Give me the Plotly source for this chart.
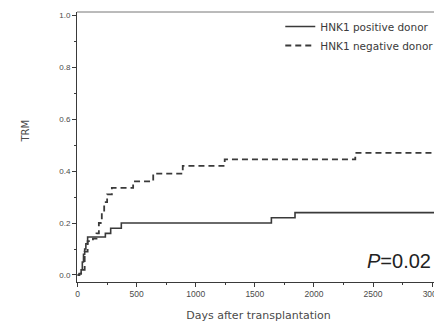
import plotly.graph_objects as go

# Data (days after transplantation, cumulative TRM)
pos_days = [0, 15, 30, 40, 50, 60, 70, 85, 235, 280, 370, 1640, 1840, 3067]
pos_trm  = [0.0, 0.005, 0.02, 0.05, 0.08, 0.10, 0.12, 0.146, 0.16, 0.18, 0.20, 0.22, 0.24, 0.24]

neg_days = [0, 15, 30, 60, 85, 130, 160, 180, 205, 225, 250, 290, 470, 640, 890, 1245, 2350, 3067]
neg_trm  = [0.0, 0.005, 0.02, 0.09, 0.13, 0.14, 0.16, 0.20, 0.24, 0.28, 0.31, 0.335, 0.36, 0.39, 0.42, 0.445, 0.47, 0.47]

series_names = ["HNK1 positive donor", "HNK1 negative donor"]
x_ticks = [0, 500, 1000, 1500, 2000, 2500, 3000]
y_ticks = [0.0, 0.2, 0.4, 0.6, 0.8, 1.0]

line_col = "#3a3a3a"
text_col = "#4a4a4a"

fig = go.Figure()
fig.add_trace(go.Scatter(x=pos_days, y=pos_trm, mode="lines", line_shape="hv",
                         name=series_names[0], line=dict(color=line_col, width=1.6)))
fig.add_trace(go.Scatter(x=neg_days, y=neg_trm, mode="lines", line_shape="hv",
                         name=series_names[1], line=dict(color=line_col, width=1.8, dash="6px,4px")))

fig.update_layout(
    width=434, height=314,
    margin=dict(l=69, r=0, t=4, b=40),
    paper_bgcolor="white", plot_bgcolor="white",
    font=dict(family="DejaVu Sans, Liberation Sans, sans-serif", color=text_col),
    showlegend=True,
    legend=dict(x=0.998, xanchor="right", y=1.0, yanchor="top",
                font=dict(size=10.5, color="#3a3a3a"), bgcolor="rgba(0,0,0,0)",
                tracegroupgap=0, itemwidth=30),
    xaxis=dict(range=[-5, 3067], tickvals=x_ticks, ticktext=[str(v) for v in x_ticks],
               ticks="outside", ticklen=4, tickcolor=line_col, showline=True,
               linecolor=line_col, linewidth=1, showgrid=False, zeroline=False,
               tickfont=dict(size=8.5, color=text_col, family="Liberation Sans Narrow, Liberation Sans, sans-serif"),
               ticklabeloverflow="allow",
               minor=dict(dtick=250, tick0=0, ticks="outside", ticklen=2, tickcolor=line_col),
               title=dict(text="Days after transplantation", font=dict(size=11, color=text_col), standoff=15)),
    yaxis=dict(range=[-0.027, 1.012], tickvals=y_ticks, ticktext=[f"{v:.1f}" for v in y_ticks],
               ticks="outside", ticklen=4, tickcolor=line_col, showline=True,
               linecolor=line_col, linewidth=1, showgrid=False, zeroline=False,
               tickfont=dict(size=8, color=text_col, family="Liberation Sans, sans-serif"),
               minor=dict(dtick=0.1, tick0=0, ticks="outside", ticklen=2, tickcolor=line_col)),
)

# top frame line
fig.add_shape(type="line", xref="paper", yref="paper", x0=0, x1=1, y0=1, y1=1,
              line=dict(color="#777777", width=1))

fig.add_annotation(text="TRM", xref="paper", yref="paper", x=-0.162, y=0.56,
                   showarrow=False, textangle=-90, font=dict(size=10, color=text_col))
fig.add_annotation(text="<i>P</i>=0.02", xref="paper", yref="paper", x=0.98, y=0.078,
                   xanchor="right", yanchor="middle", showarrow=False,
                   font=dict(size=20, color="#222222", family="Liberation Sans, Arial, sans-serif"))

fig.write_html("out.html")
